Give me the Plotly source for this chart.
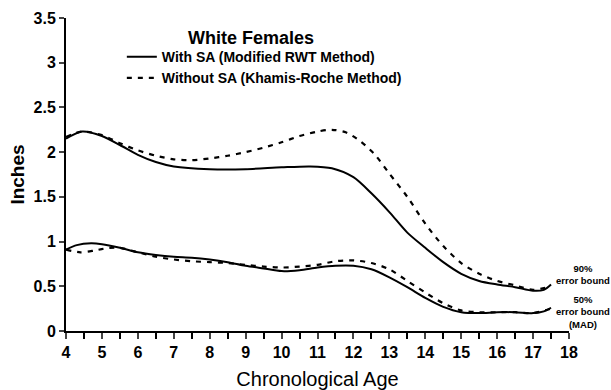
import plotly.graph_objects as go

age_90_with = [4.0, 4.45, 5.0, 5.5, 6.0, 6.5, 7.0, 8.0, 9.0, 10.0, 10.8, 11.4, 12.0, 12.5, 13.0, 13.5, 14.0, 14.5, 15.0, 15.5, 16.0, 16.5, 17.0, 17.3, 17.5]
val_90_with = [2.15, 2.23, 2.18, 2.08, 1.97, 1.89, 1.84, 1.81, 1.81, 1.83, 1.84, 1.82, 1.72, 1.54, 1.33, 1.10, 0.93, 0.77, 0.64, 0.56, 0.52, 0.49, 0.45, 0.46, 0.52]

age_90_without = [4.0, 4.45, 5.0, 5.5, 6.0, 6.5, 7.0, 7.5, 8.0, 8.5, 9.0, 9.5, 10.0, 10.5, 11.0, 11.4, 11.8, 12.2, 12.6, 13.0, 13.5, 14.0, 14.5, 15.0, 15.5, 16.0, 16.5, 17.0, 17.5]
val_90_without = [2.17, 2.23, 2.19, 2.10, 2.02, 1.96, 1.92, 1.91, 1.93, 1.96, 2.00, 2.05, 2.11, 2.18, 2.23, 2.25, 2.22, 2.12, 1.97, 1.76, 1.50, 1.20, 0.95, 0.76, 0.64, 0.56, 0.51, 0.46, 0.50]

age_50_with = [4.0, 4.3, 4.7, 5.0, 5.5, 6.0, 6.5, 7.0, 7.5, 8.0, 8.5, 9.0, 9.5, 10.0, 10.5, 11.0, 11.5, 12.0, 12.5, 13.0, 13.5, 14.0, 14.5, 15.0, 15.5, 16.0, 16.5, 17.0, 17.3, 17.5]
val_50_with = [0.91, 0.96, 0.98, 0.97, 0.93, 0.88, 0.85, 0.83, 0.82, 0.80, 0.77, 0.73, 0.70, 0.67, 0.68, 0.71, 0.73, 0.73, 0.69, 0.60, 0.49, 0.37, 0.27, 0.21, 0.20, 0.21, 0.21, 0.20, 0.22, 0.26]

age_50_without = [4.0, 4.4, 4.8, 5.2, 5.5, 6.0, 6.5, 7.0, 7.5, 8.0, 8.5, 9.0, 9.5, 10.0, 10.5, 11.0, 11.5, 12.0, 12.5, 13.0, 13.5, 14.0, 14.5, 15.0, 15.5, 16.0, 16.5, 17.0, 17.5]
val_50_without = [0.91, 0.88, 0.90, 0.93, 0.93, 0.88, 0.83, 0.80, 0.78, 0.77, 0.76, 0.74, 0.72, 0.71, 0.72, 0.74, 0.78, 0.79, 0.76, 0.69, 0.56, 0.43, 0.31, 0.23, 0.21, 0.21, 0.21, 0.20, 0.25]

legend_with = "With SA (Modified RWT Method)"
legend_without = "Without SA (Khamis-Roche Method)"
chart_title = "White Females"
label_90 = "90%<br>error bound"
label_50 = "50%<br>error bound<br>(MAD)"
y_ticks = [0, 0.5, 1, 1.5, 2, 2.5, 3, 3.5]
y_tick_text = ["0", "0.5", "1", "1.5", "2", "2.5", "3", "3.5"]
x_ticks = list(range(4, 19))

FONT = "Liberation Sans Narrow, Liberation Sans, Arial, sans-serif"
solid = dict(color="black", width=2, shape="spline", smoothing=0.8)
dashed = dict(color="black", width=2.2, dash="5px,6px", shape="spline", smoothing=0.8)

fig = go.Figure()
fig.add_trace(go.Scatter(x=age_90_with, y=val_90_with, mode="lines", line=solid, name=legend_with, legendgroup="a"))
fig.add_trace(go.Scatter(x=age_90_without, y=val_90_without, mode="lines", line=dashed, name=legend_without, legendgroup="b"))
fig.add_trace(go.Scatter(x=age_50_with, y=val_50_with, mode="lines", line=solid, showlegend=False, legendgroup="a"))
fig.add_trace(go.Scatter(x=age_50_without, y=val_50_without, mode="lines", line=dashed, showlegend=False, legendgroup="b"))

fig.update_layout(
    width=611, height=390,
    margin=dict(l=66, r=42, t=18, b=59),
    plot_bgcolor="white", paper_bgcolor="white",
    font=dict(family=FONT, color="black"),
    showlegend=True,
    legend=dict(x=0.111, y=0.926, xanchor="left", yanchor="top", bgcolor="rgba(0,0,0,0)",
                font=dict(size=14, family=FONT, weight="bold"), tracegroupgap=0,
                itemwidth=30),
    xaxis=dict(range=[4, 18], tickvals=x_ticks, ticks="outside", ticklen=6, tickwidth=2,
               showline=True, linecolor="black", linewidth=2, showgrid=False, zeroline=False,
               automargin=False,
               tickfont=dict(size=16, family=FONT, weight="bold"),
               minor=dict(dtick=0.5, ticks="outside", ticklen=6, tickwidth=2, tickcolor="black", showgrid=False),
               title=dict(text="Chronological Age", font=dict(size=20, family=FONT), standoff=12)),
    yaxis=dict(range=[0, 3.5], tickvals=y_ticks, ticktext=y_tick_text, ticks="outside", ticklen=5, tickwidth=2,
               showline=True, linecolor="black", linewidth=2, showgrid=False, zeroline=False,
               automargin=False,
               tickfont=dict(size=16, family=FONT, weight="bold"),
               title=dict(text="Inches", font=dict(size=19, family=FONT, weight="bold"), standoff=4)),
)

fig.add_annotation(text=chart_title, xref="paper", yref="paper", x=0.367, y=0.937, showarrow=False,
                   font=dict(size=18, family=FONT, weight="bold"), xanchor="center", yanchor="middle")
fig.add_annotation(text=label_90, x=1.027, y=0.63, xref="paper", yref="y", xanchor="center", yanchor="middle",
                   showarrow=False, align="center", font=dict(size=9.5, family=FONT, weight="bold"))
fig.add_annotation(text=label_50, x=1.027, y=0.21, xref="paper", yref="y", xanchor="center", yanchor="middle",
                   showarrow=False, align="center", font=dict(size=9.5, family=FONT, weight="bold"))

fig.write_html("out.html", config={"displayModeBar": False},
               post_script="document.body.style.margin='0';document.body.style.overflow='hidden';")
